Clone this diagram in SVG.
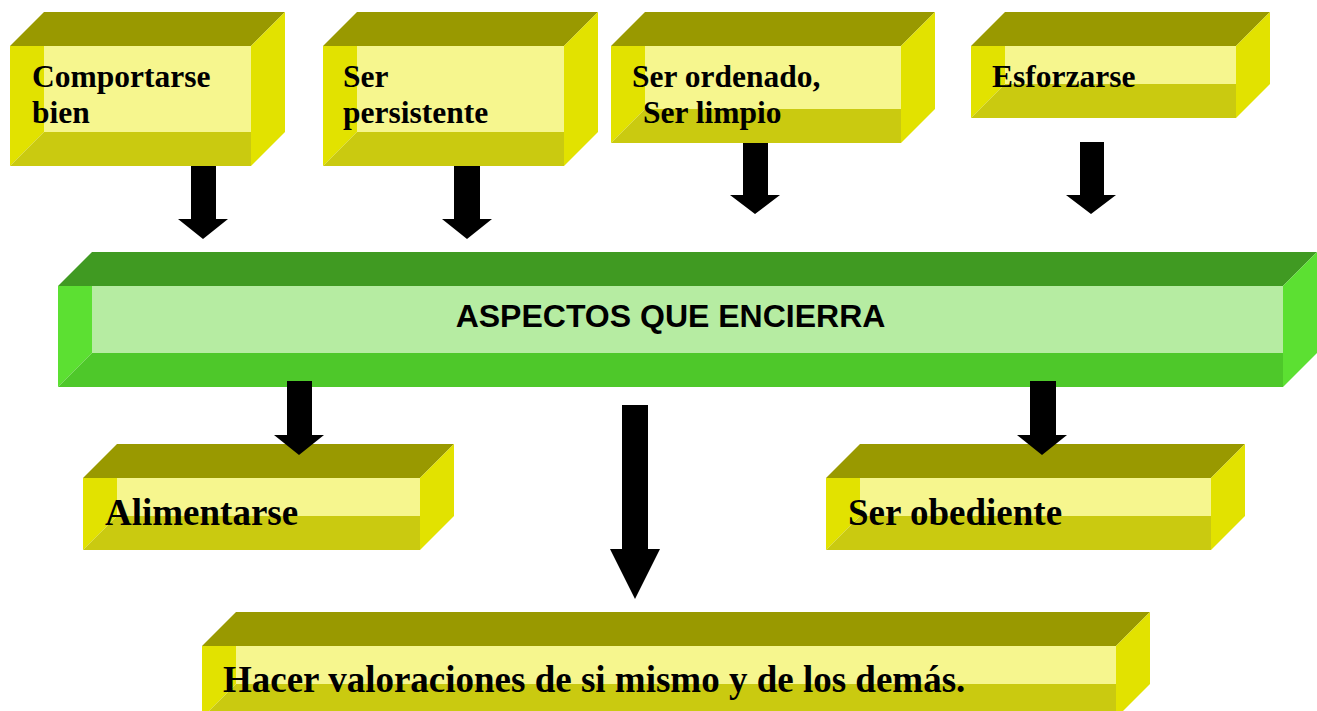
<svg xmlns="http://www.w3.org/2000/svg" width="1317" height="711" viewBox="0 0 1317 711">
<style>
.yt{fill:#999900}.ys{fill:#e2e200}.yf{fill:#f6f68e}.yb{fill:#caca10}
.gt{fill:#409a22}.gs{fill:#5ce032}.gf{fill:#b6eca2}.gb{fill:#4ec82a}
.t{font-family:"Liberation Serif","Times New Roman",serif;font-weight:bold;fill:#000}
.ts{font-size:31.5px}.tl{font-size:37px}
.a{font-family:"Liberation Sans",Arial,sans-serif;font-weight:bold;font-size:32px;fill:#000}
.arr{fill:#000}
</style>
<rect width="1317" height="711" fill="#fff"/>
<g id="n1">
<polygon class="yt" points="10,46 44,12 285,12 251,46"/>
<polygon class="ys" points="251,46 285,12 285,132 251,166"/>
<rect class="yf" x="44" y="46" width="207" height="86"/>
<polygon class="ys" points="10,46 44,46 44,132 10,166"/>
<polygon class="yb" points="44,132 251,132 251,166 10,166"/>
<text class="t ts" x="32" y="87">Comportarse</text>
<text class="t ts" x="32" y="123">bien</text>
</g>
<g id="n2">
<polygon class="yt" points="323,46 357,12 598,12 564,46"/>
<polygon class="ys" points="564,46 598,12 598,132 564,166"/>
<rect class="yf" x="357" y="46" width="207" height="86"/>
<polygon class="ys" points="323,46 357,46 357,132 323,166"/>
<polygon class="yb" points="357,132 564,132 564,166 323,166"/>
<text class="t ts" x="343" y="87">Ser</text>
<text class="t ts" x="343" y="123">persistente</text>
</g>
<g id="n3">
<polygon class="yt" points="611,46 645,12 935,12 901,46"/>
<polygon class="ys" points="901,46 935,12 935,109 901,143"/>
<rect class="yf" x="645" y="46" width="256" height="63"/>
<polygon class="ys" points="611,46 645,46 645,109 611,143"/>
<polygon class="yb" points="645,109 901,109 901,143 611,143"/>
<text class="t ts" x="632" y="87">Ser ordenado,</text>
<text class="t ts" x="643" y="123">Ser limpio</text>
</g>
<g id="n4">
<polygon class="yt" points="971,46 1005,12 1270,12 1236,46"/>
<polygon class="ys" points="1236,46 1270,12 1270,84 1236,118"/>
<rect class="yf" x="1005" y="46" width="231" height="38"/>
<polygon class="ys" points="971,46 1005,46 1005,84 971,118"/>
<polygon class="yb" points="1005,84 1236,84 1236,118 971,118"/>
<text class="t ts" x="992" y="87">Esforzarse</text>
</g>
<g id="center">
<polygon class="gt" points="58,286 92,252 1317,252 1283,286"/>
<polygon class="gs" points="1283,286 1317,252 1317,353 1283,387"/>
<rect class="gf" x="92" y="286" width="1191" height="67"/>
<polygon class="gs" points="58,286 92,286 92,353 58,387"/>
<polygon class="gb" points="92,353 1283,353 1283,387 58,387"/>
<text class="a" x="670.5" y="327" text-anchor="middle">ASPECTOS QUE ENCIERRA</text>
</g>
<g id="n5">
<polygon class="yt" points="83,478 117,444 454,444 420,478"/>
<polygon class="ys" points="420,478 454,444 454,516 420,550"/>
<rect class="yf" x="117" y="478" width="303" height="38"/>
<polygon class="ys" points="83,478 117,478 117,516 83,550"/>
<polygon class="yb" points="117,516 420,516 420,550 83,550"/>
<text class="t tl" x="105" y="525">Alimentarse</text>
</g>
<g id="n6">
<polygon class="yt" points="826,478 860,444 1245,444 1211,478"/>
<polygon class="ys" points="1211,478 1245,444 1245,516 1211,550"/>
<rect class="yf" x="860" y="478" width="351" height="38"/>
<polygon class="ys" points="826,478 860,478 860,516 826,550"/>
<polygon class="yb" points="860,516 1211,516 1211,550 826,550"/>
<text class="t tl" x="848" y="525">Ser obediente</text>
</g>
<g id="n7">
<polygon class="yt" points="202,646 236,612 1150,612 1116,646"/>
<polygon class="ys" points="1116,646 1150,612 1150,684 1116,718"/>
<rect class="yf" x="236" y="646" width="880" height="38"/>
<polygon class="ys" points="202,646 236,646 236,684 202,718"/>
<polygon class="yb" points="236,684 1116,684 1116,718 202,718"/>
<text class="t tl" x="223" y="692">Hacer valoraciones de si mismo y de los demás.</text>
</g>
<g id="connectors">
<polygon class="arr" points="191,166 216,166 216,219 228,219 203,239 178,219 191,219"/>
<polygon class="arr" points="454,166 480,166 480,219 492,219 467,239 442,219 454,219"/>
<polygon class="arr" points="743,143 768,143 768,195 780,195 755,214 730,195 743,195"/>
<polygon class="arr" points="1080,142 1104,142 1104,195 1116,195 1091,214 1066,195 1080,195"/>
<polygon class="arr" points="287,381 312,381 312,435 324,435 299,455 274,435 287,435"/>
<polygon class="arr" points="622,405 648,405 648,549 660,549 635,599 610,549 622,549"/>
<polygon class="arr" points="1030,381 1056,381 1056,435 1067,435 1042,455 1017,435 1030,435"/>
</g>
</svg>
